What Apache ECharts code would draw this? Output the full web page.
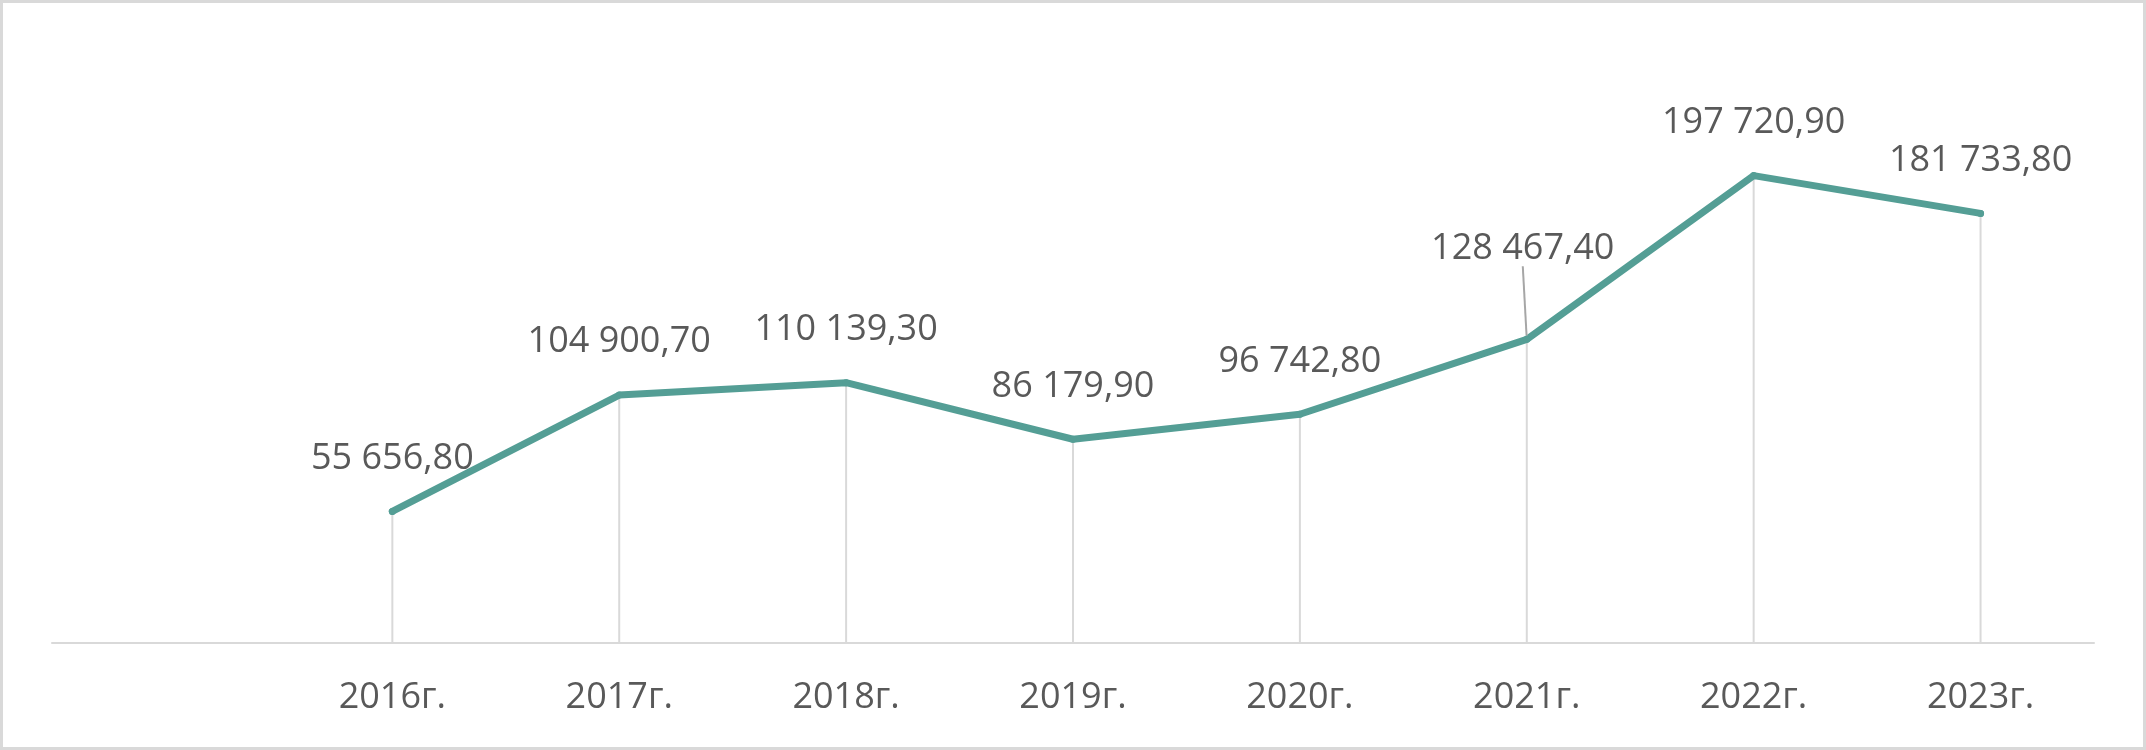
<!DOCTYPE html>
<html>
<head>
<meta charset="utf-8">
<script src="https://cdn.jsdelivr.net/npm/echarts@6/dist/echarts.min.js"></script>
<style>
  html, body { margin: 0; padding: 0; background: #fff; }
  #chart {
    position: absolute; left: 0; top: 0;
    width: 2146px; height: 750px;
    box-sizing: border-box;
    border: 3px solid #d9d9d9;
    background: #fff;
  }
</style>
</head>
<body>
<div id="chart"></div>
<script>
// first category is blank in the source chart (empty slot on the left)
const categories = ['', '2016г.', '2017г.', '2018г.', '2019г.', '2020г.', '2021г.', '2022г.', '2023г.'];
const values = ['-', 55656.8, 104900.7, 110139.3, 86179.9, 96742.8, 128467.4, 197720.9, 181733.8];

const lineColor = '#549e95';
const textColor = '#595959';
const fontFamily = '"Open Sans", "Noto Sans", sans-serif';

const formatValue = (v) => {
  const [intPart, decPart] = Number(v).toFixed(2).split('.');
  return intPart.replace(/\B(?=(\d{3})+(?!\d))/g, ' ') + ',' + decPart;
};

const chart = echarts.init(document.getElementById('chart'));

chart.setOption({
  animation: false,
  grid: { left: 49, right: 49, top: 49, bottom: 104 },
  xAxis: {
    type: 'category',
    data: categories,
    boundaryGap: true,
    axisLine: { lineStyle: { color: '#d9d9d9', width: 2 } },
    axisTick: { show: false },
    axisLabel: {
      color: textColor,
      fontSize: 36,
      fontFamily: fontFamily,
      margin: 37
    },
    splitLine: { show: false }
  },
  yAxis: {
    type: 'value',
    min: 0,
    max: 250000,
    show: false
  },
  series: [
    {
      // drop lines from each point to the axis
      name: 'drop',
      type: 'bar',
      barWidth: 2,
      data: values,
      itemStyle: { color: '#d9d9d9' },
      silent: true,
      z: 1
    },
    {
      name: 'value',
      type: 'line',
      // the 2021 label sits higher, with a leader line like the original
      data: values.map((v, i) => (i === 6
        ? {
            value: v,
            label: { offset: [-4, -91], padding: [0, 0, 22, 0] },
            labelLine: { show: true }
          }
        : v)),
      symbol: 'circle',
      symbolSize: 7,
      itemStyle: { color: lineColor },
      lineStyle: { color: lineColor, width: 7, cap: 'round', join: 'round' },
      label: {
        show: true,
        position: 'inside',
        offset: [0, -53],
        color: textColor,
        fontSize: 36,
        fontFamily: fontFamily,
        formatter: (p) => formatValue(p.value)
      },
      labelLine: {
        show: false,
        lineStyle: { color: '#a6a6a6', width: 2 }
      },
      z: 3
    }
  ]
});
</script>
</body>
</html>
